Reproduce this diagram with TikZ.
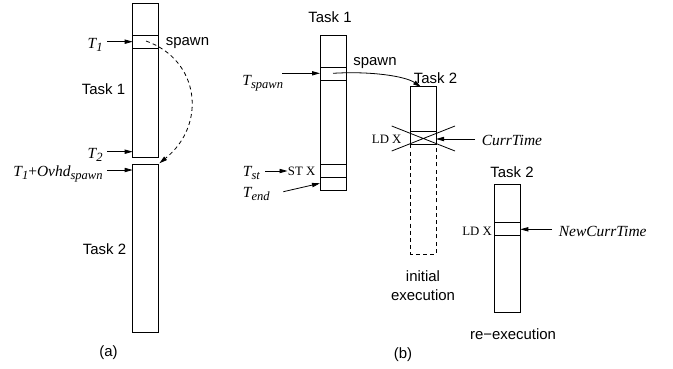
\documentclass[tikz,border=0pt]{standalone}
\usepackage{fontspec}
\setmainfont{Liberation Serif}
\setsansfont{Liberation Sans}
\usetikzlibrary{arrows.meta}
\newcommand{\tvar}[2]{\textit{#1}\raisebox{-0.45ex}{\fontsize{9.4}{10}\selectfont\itshape #2}}

\begin{document}
\begin{tikzpicture}[x=0.75pt,y=-0.75pt,line width=0.6pt,
  >={Triangle[length=6pt,width=3.2pt]},
  lbl/.style={font=\fontsize{11.2}{14.3}\selectfont\sffamily,inner sep=0pt},
  tim/.style={font=\fontsize{11.6}{13}\selectfont\itshape,inner sep=0pt},
  acc/.style={font=\fontsize{9.6}{11}\selectfont,inner sep=0pt},
  dsh/.style={dash pattern=on 3pt off 2.4pt}]
\useasboundingbox (0,0) rectangle (673,368);

% (a) spawn overhead
\draw (132.7,3) rectangle (158.7,157.7);
\draw (132.7,35) -- (158.7,35) (132.7,48.3) -- (158.7,48.3);
\draw (132.7,164) rectangle (158.7,332.3);
\coordinate (a1) at (132.7,41.7);
\coordinate (a2) at (132.7,151.7);
\coordinate (a3) at (132.7,170);
\coordinate (s1) at (107,41.7);
\coordinate (s2) at (107,151.7);
\coordinate (s3) at (107,170);
\coordinate (sp) at (146,41);
\coordinate (ta2) at (159.3,163.3);
\node (t1) at (103,48.3) [tim,anchor=base east] {\tvar{T}{1}};
\node (t2) at (103,158.3) [tim,anchor=base east] {\tvar{T}{2}};
\node (t3) at (103,176.5) [tim,anchor=base east] {\tvar{T}{1}\textup{+}\tvar{Ovhd}{spawn}};
\node (spa) at (187.5,42.7) [lbl] {spawn};
\node (task1a) at (103.5,89) [lbl] {Task 1};
\node (task2a) at (104.5,249) [lbl] {Task 2};
\node (capa) at (108.5,353) [lbl] {(a)};

\path[->]
(s1) edge (a1)
(s2) edge (a2)
(s3) edge (a3);
\draw[->,dsh] (sp) .. controls (200,60) and (207,125) .. (ta2);

% (b) re-execution
\draw (320,35) rectangle (346,190);
\foreach \y in {67.7,80.3,164.3,177.3}
  \draw (320,\y) -- (346,\y);
\draw (410.7,144.3) -- (410.7,86.7) -- (436,86.7) -- (436,144.3);
\draw (410.7,131.7) -- (436,131.7) (410.7,144.3) -- (436,144.3);
\draw[dsh] (410.7,144.3) -- (410.7,254.3) -- (436,254.3) -- (436,144.3);
\draw (391.7,126) -- (455,151) (391.7,151) -- (455,126);
\draw (494.3,184) rectangle (520.3,312.7);
\draw (494.3,222.7) -- (520.3,222.7) (494.3,235.3) -- (520.3,235.3);

\coordinate (b1) at (320,73.3);
\coordinate (u1) at (282,73.3);
\coordinate (u2) at (265,171);
\coordinate (u3) at (283.3,191.7);
\coordinate (b3) at (320,183.3);
\coordinate (bs) at (333,73.3);
\coordinate (tb2) at (421,87);
\coordinate (u4) at (475,139);
\coordinate (b4) at (436,139);
\coordinate (u5) at (552,229.3);
\coordinate (b5) at (520.3,229.3);
\node (task1b) at (330,16.7) [lbl] {Task 1};
\node (task2b) at (435.5,78) [lbl] {Task 2};
\node (task2c) at (512,171.7) [lbl] {Task 2};
\node (spb) at (375,63) [lbl] {spawn};
\node (tsp) at (283.5,85) [tim,anchor=base east] {\tvar{T}{spawn}};
\node (tst) at (242.5,176) [tim,anchor=base west] {\tvar{T}{st}};
\node (ten) at (242.5,197) [tim,anchor=base west] {\tvar{T}{end}};
\node (stx) at (287.5,171) [acc,anchor=west] {ST X};
\node (ldx1) at (386.7,139.5) [acc] {LD X};
\node (ldx2) at (477,231) [acc] {LD X};
\node (cur) at (481.5,140) [tim,anchor=west] {CurrTime};
\node (ncur) at (558.5,231) [tim,anchor=west] {NewCurrTime};
\node (init) at (423,285.5) [lbl,align=center] {initial\\execution};
\node (reex) at (513,334) [lbl] {re−execution};
\node (capb) at (403,355) [lbl] {(b)};

\path[->]
(u1) edge (b1)
(u2) edge (stx)
(u3) edge (b3)
(u4) edge (b4)
(u5) edge (b5);
\draw[->] (bs) .. controls (370,71) and (405,76) .. (tb2);
\end{tikzpicture}
\end{document}
